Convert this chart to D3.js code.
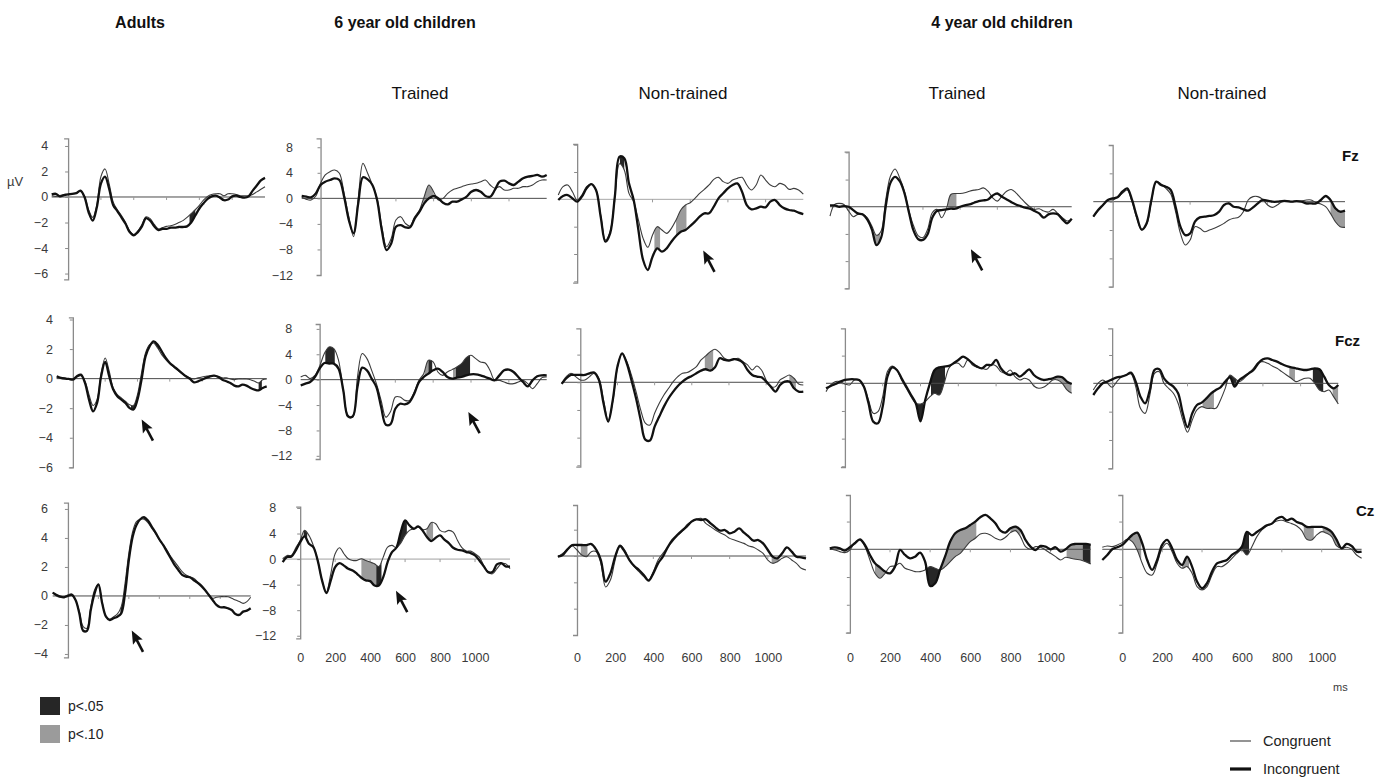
<!DOCTYPE html>
<html>
<head>
<meta charset="utf-8">
<script src="https://cdn.jsdelivr.net/npm/d3@7"></script>
<style>
  body { margin: 0; background: #fff; }
  text { font-family: "Liberation Sans", Arial, sans-serif; }
</style>
</head>
<body>
<svg></svg>
<script>
// ERP grand averages, sampled every 25 ms from -100 to 1200 ms (values in microvolts)
const time = [-100,-75,-50,-25,0,25,50,75,100,125,150,175,200,225,250,275,300,325,350,375,400,425,450,475,500,525,550,575,600,625,650,675,700,725,750,775,800,825,850,875,900,925,950,975,1000,1025,1050,1075,1100,1125,1150,1175,1200]

// ---- Fz ----
const adultsFzCon = [0.1,0.05,0.1,0.2,0.2,0.25,0.3,0.45,0.05,-1.0,-1.6,-0.65,1.6,2.2,1.05,-0.4,-1.0,-1.45,-2.0,-2.65,-2.95,-2.65,-2.15,-1.55,-1.7,-2.15,-2.5,-2.4,-2.3,-2.25,-2.15,-2.0,-1.85,-1.6,-1.3,-1.0,-0.65,-0.25,0.05,0.2,0.25,0.25,0.1,0.25,0.25,0.2,0.1,0.1,0.1,0.2,0.4,0.6,0.8]
const adultsFzInc = [0.2,0.25,0.05,0.15,0.2,0.25,0.3,0.5,0,-1.2,-1.85,-0.8,1.05,1.6,0.65,-0.65,-1.1,-1.6,-2.1,-2.75,-3.0,-2.75,-2.3,-1.65,-1.85,-2.3,-2.6,-2.5,-2.5,-2.4,-2.4,-2.35,-2.35,-2.3,-2.0,-1.45,-0.9,-0.5,-0.15,0.05,0.1,-0.05,-0.25,-0.2,0.05,0.1,0,-0.05,0.05,0.5,0.9,1.3,1.5]
const sixTrFzCon = [0.16,-0.16,-0.26,0.37,2.35,3.66,4.18,4.44,3.92,0.78,-2.87,-6.0,0,5.48,3.92,2.09,0,-4.44,-7.57,-6.27,-3.39,-2.87,-3.92,-4.33,-2.87,-1.83,0.26,2.09,1.04,-0.26,0,0.78,1.31,1.57,1.83,2.09,2.25,2.35,2.61,2.87,2.09,1.57,1.83,1.31,1.31,1.57,1.57,1.83,1.83,2.09,2.61,2.87,2.87]
const sixTrFzInc = [0.37,0.26,0.16,0.78,2.09,2.61,2.87,3.13,2.87,0.26,-3.39,-5.48,-0.78,3.29,2.98,2.09,-0.26,-4.96,-8.09,-7.05,-4.44,-4.18,-4.54,-4.54,-3.13,-2.09,-0.78,0,0.37,0,-0.68,-0.94,-0.52,-0.52,-0.16,0.26,1.04,1.31,1.04,0.37,0.26,1.31,2.61,2.77,2.35,2.09,2.61,3.13,3.39,3.5,3.66,3.39,3.66]
const sixNtFzCon = [0.63,1.85,2.1,1.12,-0.1,0.63,1.85,2.24,1.37,-2.29,-5.95,-4.73,0.39,5.2,4.3,0.88,-0.34,-3.02,-5.71,-7.02,-5.22,-4.0,-4.49,-4.98,-4.24,-3.02,-1.56,-0.83,-0.49,0.15,0.88,1.46,2.1,2.93,3.22,2.59,2.34,2.83,3.07,3.22,2.1,1.37,2.1,3.56,2.83,2.1,1.85,2.34,2.1,1.46,1.61,1.37,0.78]
const sixNtFzInc = [-0.1,0.49,0.63,0.15,-0.34,0.39,1.61,2.24,1.37,-2.54,-6.2,-4.98,0.39,6.24,6.0,2.34,-0.1,-4.49,-8.88,-10.34,-8.39,-7.17,-7.66,-7.17,-6.2,-5.37,-4.73,-4.49,-3.9,-3.27,-2.54,-2.05,-2.05,-1.07,0.15,0.88,1.61,2.1,2.34,1.12,-0.83,-1.46,-1.32,-1.07,-1.17,-0.34,-0.1,-0.83,-1.32,-1.56,-1.66,-1.95,-2.15]
const fourTrFzCon = [-1.37,0.34,0.49,0.34,-0.63,-1.46,-1.12,-1.12,-1.61,-2.83,-4.2,-3.56,1.07,4.49,5.56,4.24,2.29,-0.63,-2.83,-4.29,-4.54,-3.32,-0.88,-0.39,-1.61,-0.39,1.8,1.95,1.95,2.05,2.29,2.44,2.54,2.78,2.29,1.32,0.83,1.56,2.29,2.54,2.05,1.32,0.59,0,-0.39,-0.29,-0.63,-0.78,-0.39,-0.98,-1.61,-2.1,-1.85]
const fourTrFzInc = [0.2,0.2,0,0.1,0,-0.49,-0.98,-1.12,-1.85,-3.32,-5.66,-4.54,0.1,3.51,4.39,3.76,2.05,-0.88,-3.56,-4.78,-4.88,-4.05,-1.61,-0.63,-0.49,-0.39,-0.29,-0.29,0,0.2,0.34,0.59,0.83,0.93,1.07,1.66,1.95,1.46,1.07,0.68,0.34,0.1,-0.15,-0.29,-0.63,-0.98,-1.61,-1.12,-0.98,-1.12,-1.85,-2.44,-1.76]
const fourNtFzCon = [-2.12,-1.27,-0.47,0.24,0.24,0.61,1.18,1.65,0,-2.35,-4.0,-3.29,0,2.82,2.5,1.88,1.08,-1.41,-4.47,-6.12,-5.41,-3.53,-3.76,-4.24,-4.0,-3.76,-3.44,-3.06,-2.59,-2.35,-2.21,-1.41,0.24,0.71,0.71,0.33,-0.47,-0.8,-0.47,0,0.09,0,0.09,0.09,0.24,0.24,-0.14,-0.33,-0.71,-1.65,-2.82,-3.53,-3.62]
const fourNtFzInc = [-2.12,-1.18,-0.47,0.24,0.47,0.61,1.41,1.88,0.24,-2.12,-3.95,-3.06,0.24,2.82,2.35,2.12,1.65,-0.71,-3.53,-4.71,-4.47,-2.82,-2.21,-2.12,-2.02,-1.88,-1.41,-0.47,-0.24,-0.71,-0.8,-1.08,-1.27,-0.8,-0.24,0.24,0.14,0,0,0.09,0.09,0,0.09,0,-0.24,-0.24,-0.24,0.24,0.8,0.24,-0.94,-1.41,-1.27]

// ---- Fcz ----
const adultsFczCon = [0.05,0.05,0.05,-0.02,-0.02,0.11,0.2,-0.18,-1.08,-1.82,-1.42,0.38,1.4,0.5,-0.63,-1.08,-1.31,-1.53,-1.76,-1.82,-1.08,0.38,1.74,2.3,2.41,2.07,1.62,1.29,1.01,0.79,0.56,0.34,0.16,0.05,-0.02,0.05,0.11,0.16,0.2,0.2,0.16,0.05,0.05,-0.02,-0.07,-0.02,-0.02,-0.02,-0.07,-0.18,-0.29,-0.07,-0.02]
const adultsFczInc = [0.16,0.05,0,-0.02,-0.07,0.16,0.27,-0.29,-1.42,-2.21,-1.64,0.16,1.13,0.16,-0.74,-1.19,-1.42,-1.64,-1.98,-2.09,-1.42,-0.07,1.51,2.18,2.52,2.3,1.85,1.4,1.06,0.83,0.61,0.38,0.16,-0.02,-0.25,-0.18,-0.07,0.05,0.16,0.2,0.11,-0.07,-0.18,-0.29,-0.47,-0.52,-0.41,-0.47,-0.63,-0.74,-0.79,-0.63,-0.52]
const sixTrFczCon = [0.42,0.68,0.16,0.68,2.11,4.11,5.16,4.89,3.05,-1.68,-5.63,-5.9,0.42,4.11,3.32,1.47,-0.63,-3.26,-5.9,-5.0,-2.74,-2.74,-3.26,-3.26,-1.95,-0.11,0.95,3.05,2.79,1.21,0.68,1.21,1.58,2.0,2.53,3.47,3.84,3.32,2.79,2.63,1.47,-0.11,-0.11,-0.37,-0.63,-0.63,-0.37,-0.11,-0.63,-1.42,-0.63,0.32,0.42]
const sixTrFczInc = [-0.89,-0.63,-0.37,0.42,1.74,2.63,2.53,2.53,1.74,-1.68,-5.8,-5.8,-1.16,1.89,1.47,0.16,-1.16,-4.32,-7.1,-7.0,-4.58,-3.79,-3.89,-3.53,-2.21,-0.37,0.42,0.95,1.47,1.74,1.21,0.42,0.16,0.32,0.42,0.68,0.84,0.84,0.68,0.42,0.16,-0.11,0.68,1.47,1.58,1.21,0.42,-0.37,-1.05,-0.11,0.53,0.68,0.68]
const sixNtFczCon = [-0.14,0.82,1.3,0.82,0.34,0.34,0.82,1.3,0.58,-2.55,-5.45,-2.77,2.17,4.19,2.99,1.06,-1.35,-3.98,-5.9,-6.17,-4.48,-3.04,-1.83,-0.87,0.1,0.82,1.3,1.4,1.78,2.27,3.23,3.81,4.43,4.77,4.29,3.47,3.23,3.33,3.47,2.99,2.51,1.78,2.36,1.78,0.34,-0.63,-0.63,0.34,0.72,1.06,0.58,-0.24,-0.39]
const sixNtFczInc = [-0.24,0.58,1.06,1.06,1.06,1.06,1.3,1.4,0.34,-3.04,-5.69,-2.55,2.27,4.19,2.75,0.34,-2.31,-5.45,-8.3,-8.4,-6.41,-4.96,-3.52,-2.31,-1.35,-0.53,0.1,0.58,0.92,1.3,1.69,1.88,1.69,2.17,3.47,3.23,3.13,3.33,3.23,2.84,1.78,1.06,0.82,0.72,0.1,-0.63,-1.35,-0.39,0.1,0.1,-0.87,-1.35,-1.35]
const fourTrFczCon = [-1.2,-0.24,0.24,0.24,-0.1,-0.24,0.48,0.48,-0.48,-2.41,-4.34,-4.1,-1.93,1.69,2.51,1.93,0.48,-0.72,-1.93,-2.89,-3.0,-2.65,-1.93,-1.45,-1.69,0,2.17,2.89,2.89,2.31,3.37,2.65,2.31,2.17,2.02,2.65,2.51,1.69,1.45,1.93,0.96,0.48,0.72,0.48,-0.39,-0.72,-0.58,-0.1,0.48,0.48,0,-0.96,-1.45]
const fourTrFczInc = [-0.72,-0.39,-0.1,0.24,0.48,0.58,0.58,0.48,-0.48,-2.89,-5.54,-5.78,-3.37,0.96,2.31,1.93,0.72,-0.48,-1.69,-2.89,-5.5,-2.41,0,1.93,2.31,2.41,2.51,2.89,3.37,3.86,3.47,2.89,2.41,2.17,2.65,2.65,3.37,2.17,1.45,1.2,1.45,0.96,1.45,2.02,1.2,0.72,0.48,0.58,0.72,0.96,0.87,0.24,-0.1]
const fourNtFczCon = [-0.94,0,0.47,0,-0.56,0.24,0.94,1.18,1.32,-0.47,-3.53,-4.24,-1.65,1.41,1.65,0,-0.71,-1.41,-2.82,-5.18,-6.9,-5.18,-3.76,-3.29,-3.53,-3.53,-3.53,-2.35,-0.71,1.18,0.71,0.24,0.71,1.41,2.12,2.92,3.06,2.82,2.45,2.12,1.65,1.18,0.71,0.24,0.47,0.71,0.71,0,-0.94,-1.18,-0.94,-1.88,-2.92]
const fourNtFczInc = [-1.65,-0.71,0,0.24,0.56,0.85,0.94,1.18,1.51,0.24,-1.88,-2.82,-0.94,1.9,2.0,0.71,0,-0.47,-1.41,-4.24,-6.2,-4.24,-3.06,-2.73,-2.12,-1.41,-0.94,-0.56,0.24,0.85,-0.47,0.47,0.94,1.41,1.88,2.82,3.39,3.53,3.29,3.06,2.73,2.45,2.26,2.12,1.98,1.88,1.98,2.12,1.98,0.94,-0.24,-0.71,-0.24]

// ---- Cz ----
const adultsCzCon = [0.23,0,-0.09,-0.05,0.07,0.14,-0.28,-1.08,-2.11,-2.23,-0.74,0.41,0.8,-0.46,-1.43,-1.61,-1.43,-1.24,-0.74,0.87,2.94,4.44,5.13,5.29,5.29,5.06,4.67,4.32,3.86,3.52,3.17,2.71,2.37,2.02,1.68,1.45,1.33,1.22,0.99,0.76,0.41,0.07,-0.16,-0.09,-0.05,-0.05,-0.05,-0.16,-0.28,-0.39,-0.51,-0.39,-0.09]
const adultsCzInc = [0.23,0.07,-0.05,-0.09,0,0.07,-0.28,-1.2,-2.4,-2.4,-0.97,0.18,0.8,-0.51,-1.43,-1.66,-1.54,-1.43,-1.2,0.18,2.48,4.09,4.9,5.29,5.43,5.2,4.78,4.37,3.91,3.52,3.06,2.6,2.14,1.79,1.45,1.33,1.29,1.1,0.92,0.69,0.41,0.07,-0.28,-0.62,-0.78,-0.78,-0.85,-0.97,-1.24,-1.31,-1.08,-1.01,-0.85]
const sixTrCzCon = [0.05,0.57,0.57,1.78,2.92,4.49,3.71,2.14,-0.21,-3.34,-5.17,-2.3,0.84,1.78,0.84,0.05,-0.21,-0.21,0.05,-0.21,-0.47,-0.73,-1.15,0.31,1.88,2.14,1.78,2.51,3.71,4.49,4.75,5.01,4.6,4.75,5.74,5.53,4.49,4.23,4.49,4.23,2.92,1.78,1.25,1.25,0.84,0.31,-1.0,-2.04,-2.3,-1.51,-0.73,-0.73,-1.51]
const sixTrCzInc = [-0.47,0.31,0.42,1.36,2.66,3.55,2.4,1.88,-0.21,-3.34,-5.33,-3.34,-1.25,-0.63,-1.02,-1.51,-1.78,-2.3,-2.92,-3.34,-3.45,-4.13,-4.13,-2.82,-0.47,1.1,1.78,4.23,6.06,5.27,4.75,5.12,4.49,3.45,2.82,3.34,3.71,3.03,2.51,1.78,1.46,1.36,1.1,0.94,0.57,-0.21,-1.15,-2.04,-2.04,-0.84,-0.63,-1.15,-1.15]
const sixNtCzCon = [-0.1,0.41,1.01,1.52,0.91,0.15,-0.1,0.66,0.66,-1.11,-4.7,-3.65,-0.61,1.67,0.91,-0.61,-1.62,-2.38,-3.14,-3.65,-2.38,-0.61,0.41,1.32,2.18,3.04,3.7,4.71,5.22,5.57,5.72,4.96,4.46,3.95,3.54,3.19,2.68,2.43,2.18,1.92,1.52,1.32,0.91,0.41,-0.61,-1.11,-0.86,-0.35,-0.1,-0.61,-1.11,-1.87,-2.13]
const sixNtCzInc = [-0.1,0.15,1.01,1.67,1.67,1.67,1.67,1.82,1.01,-0.61,-3.9,-2.63,-0.1,1.52,0.66,-0.61,-1.52,-2.13,-2.89,-3.75,-2.63,-1.11,-0.1,1.32,2.43,3.19,3.85,4.46,5.22,5.57,5.47,5.57,4.96,4.35,3.85,3.95,3.44,3.7,4.2,3.54,2.94,2.33,2.43,1.92,0.91,-0.1,-0.35,0.41,1.32,0.66,-0.1,-0.2,-0.35]
const fourTrCzCon = [0,-0.1,-0.34,-0.48,-0.1,0.96,1.35,0.38,-1.54,-3.46,-4.18,-3.46,-2.5,-2.4,-2.02,-2.74,-2.98,-3.22,-3.22,-2.98,-2.5,-2.74,-2.98,-2.5,-1.78,-1.06,-0.58,0.29,1.11,1.59,2.21,2.31,2.07,1.59,1.35,1.73,2.4,2.69,1.83,0.38,0,0.38,0.29,-0.1,-0.58,-1.06,-1.54,-1.15,-1.3,-1.44,-1.54,-1.78,-2.11]
const fourTrCzInc = [0.14,0.29,0.14,-0.19,0.29,0.87,1.44,0.63,-0.82,-2.02,-2.6,-3.22,-3.46,-2.5,-0.1,-0.82,-1.3,-1.06,-0.48,-1.8,-5.3,-4.9,-2.9,-1.0,1.11,2.31,2.79,3.03,3.51,3.99,4.62,4.95,4.47,3.75,2.69,2.4,3.03,3.27,2.79,1.35,0.38,-0.1,0.48,0.38,0,0.29,-0.34,0,0.63,0.77,0.77,0.77,0.63]
const fourNtCzCon = [0.29,0.48,0.38,0.63,0.96,1.44,1.11,-0.1,-2.02,-3.46,-3.7,-2.02,0.14,0.87,-0.34,-2.02,-2.74,-2.5,-3.46,-5.38,-5.86,-5.38,-3.7,-2.5,-2.5,-2.02,-1.3,-0.58,-0.1,-0.82,0.38,1.83,2.79,3.37,3.7,4.09,4.18,3.94,3.7,3.37,2.69,1.44,1.35,2.07,2.55,2.31,1.83,0.48,0.14,0.29,0,-0.82,-1.3]
const fourNtCzInc = [-1.54,-0.82,0,0.29,0.63,1.35,2.07,2.4,0.87,-1.54,-2.98,-1.54,0.63,1.35,0.14,-1.54,-2.26,-1.06,-2.5,-4.66,-5.62,-4.9,-3.22,-2.02,-1.78,-1.54,-0.82,-0.34,0.38,2.5,2.02,2.5,2.98,3.46,3.7,4.42,4.66,4.18,4.42,3.94,3.7,3.22,3.22,3.22,3.22,2.98,2.5,1.35,0.14,0.77,0.48,-0.34,-0.34]

// significant differences: [start ms, end ms, level] level 1 = p<.05, 2 = p<.10
const sigAdultsFz = [[740, 775, 1]]
const sigSixTrFz = [[545, 600, 2]]
const sigSixNtFz = [[227, 250, 1], [410, 440, 2], [525, 580, 2]]
const sigFourTrFz = [[135, 170, 2], [535, 580, 2]]
const sigFourNtFz = [[1125, 1200, 2]]
const sigAdultsFcz = [[360, 400, 1], [505, 535, 1], [1150, 1170, 1]]
const sigSixTrFcz = [[30, 80, 1], [555, 575, 2], [575, 595, 1], [705, 720, 2], [720, 795, 1]]
const sigSixNtFcz = [[670, 715, 2], [1125, 1160, 2]]
const sigFourTrFcz = [[380, 415, 1], [455, 530, 1], [1110, 1200, 2]]
const sigFourNtFcz = [[480, 540, 2], [605, 660, 1], [940, 970, 2], [1065, 1120, 1], [1170, 1200, 2]]
const sigAdultsCz = [[345, 395, 1], [495, 520, 1]]
const sigSixTrCz = [[20, 40, 1], [350, 435, 2], [435, 465, 1], [555, 610, 1], [722, 760, 2]]
const sigSixNtCz = [[20, 55, 2], [1020, 1060, 2]]
const sigFourTrCz = [[125, 170, 2], [375, 445, 1], [445, 630, 2], [800, 850, 2], [1080, 1160, 2], [1160, 1200, 1]]
const sigFourNtCz = [[35, 95, 2], [300, 335, 2], [590, 635, 1], [910, 960, 2], [1005, 1095, 2]]

// arrows marking the effects: [ms, µV] of the tip
const arrowSixNtFz = [669, -7.5]
const arrowFourTrFz = [658, -6.25]
const arrowAdultsFcz = [426, -2.76]
const arrowSixTrFcz = [786, -5.09]
const arrowAdultsCz = [419, -2.39]
const arrowSixTrCz = [548, -4.97]

const groupTitles = ["Adults", "6 year old children", "4 year old children"]
const conditionTitles = ["Trained", "Non-trained", "Trained", "Non-trained"]
const electrodes = ["Fz", "Fcz", "Cz"]
const yTicksAdultsFront = [-6, -4, -2, 0, 2, 4]
const yTicksAdultsCz = [-4, -2, 0, 2, 4, 6]
const yTicksChildren = [-12, -8, -4, 0, 4, 8]
const xTickLabels = [0, 200, 400, 600, 800, 1000]

///////////////////////////////////////////
//////////////// Constants ////////////////
///////////////////////////////////////////
const width = 1377
const height = 779
const thinColour = "#3c3c3c"
const thickColour = "#111"
const axisColour = "#8a8a8a"
const labelColour = "#3a3a3a"
const sigColours = { 1: "#262626", 2: "#9b9b9b" }

// panel frames: x = pixel range for -100..1200 ms, y = pixel range for the y domain
const panels = [
  { con: adultsFzCon, inc: adultsFzInc, sig: sigAdultsFz, x: [51.7, 265], y: [279.3, 138.3], dom: [-6.45, 4.6], ticks: yTicksAdultsFront, pad: 17 },
  { con: sixTrFzCon, inc: sixTrFzInc, sig: sigSixTrFz, x: [301.7, 546.7], y: [275, 138.3], dom: [-12, 9.4], ticks: yTicksChildren, pad: 24.5 },
  { con: sixNtFzCon, inc: sixNtFzInc, sig: sigSixNtFz, x: [558.3, 803.3], y: [282.7, 144], dom: [-12.2, 8.1], ticks: yTicksChildren, arrow: arrowSixNtFz, zeroColour: "#a8a8a8" },
  { con: fourTrFzCon, inc: fourTrFzInc, sig: sigFourTrFz, x: [830, 1071.7], y: [288.3, 151.7], dom: [-12, 8.1], ticks: yTicksChildren, arrow: arrowFourTrFz },
  { con: fourNtFzCon, inc: fourNtFzInc, sig: sigFourNtFz, x: [1093.3, 1345], y: [286.7, 145], dom: [-12, 8], ticks: yTicksChildren },

  { con: adultsFczCon, inc: adultsFczInc, sig: sigAdultsFcz, x: [56.7, 266.7], y: [467.3, 317.3], dom: [-6, 4.15], ticks: yTicksAdultsFront, pad: 17, arrow: arrowAdultsFcz },
  { con: sixTrFczCon, inc: sixTrFczInc, sig: sigSixTrFcz, x: [300.7, 546.7], y: [459, 324], dom: [-12.5, 8.77], ticks: yTicksChildren, pad: 24.5, arrow: arrowSixTrFcz },
  { con: sixNtFczCon, inc: sixNtFczInc, sig: sigSixNtFcz, x: [561.7, 803.3], y: [466.7, 328.3], dom: [-12.2, 7.8], ticks: yTicksChildren },
  { con: fourTrFczCon, inc: fourTrFczInc, sig: sigFourTrFcz, x: [826, 1071.7], y: [467, 328.3], dom: [-12.1, 7.95], ticks: yTicksChildren },
  { con: fourNtFczCon, inc: fourNtFczInc, sig: sigFourNtFcz, x: [1093.3, 1338.3], y: [468.3, 328.3], dom: [-12, 7.77], ticks: yTicksChildren },

  { con: adultsCzCon, inc: adultsCzInc, sig: sigAdultsCz, x: [52.7, 250.7], y: [657.3, 502.7], dom: [-4.23, 6.43], ticks: yTicksAdultsCz, pad: 17, arrow: arrowAdultsCz },
  { con: sixTrCzCon, inc: sixTrCzInc, sig: sigSixTrCz, x: [282.7, 510], y: [638.3, 506.7], dom: [-12.4, 8.2], ticks: yTicksChildren, pad: 21, arrow: arrowSixTrCz, xLabels: true, zeroColour: "#a0a0a0" },
  { con: sixNtCzCon, inc: sixNtCzInc, sig: sigSixNtCz, x: [557.9, 806], y: [635, 505], dom: [-12, 7.75], ticks: yTicksChildren, xLabels: true },
  { con: fourTrCzCon, inc: fourTrCzInc, sig: sigFourTrCz, x: [829.8, 1090.7], y: [632.7, 495], dom: [-12.03, 7.83], ticks: yTicksChildren, xLabels: true },
  { con: fourNtCzCon, inc: fourNtCzInc, sig: sigFourNtCz, x: [1102.3, 1361.6], y: [632.7, 495], dom: [-12.03, 7.83], ticks: yTicksChildren, xLabels: true }
]

const svg = d3.select("svg")
  .attr("width", width)
  .attr("height", height)
  .style("display", "block")
const defs = svg.append("defs")

const curve = d3.curveCatmullRom.alpha(0.5)

///////////////////////////////////////////
//////////////// Titles ///////////////////
///////////////////////////////////////////
const groupX = [140, 405, 1002]
svg.selectAll(".group-title")
  .data(groupTitles)
  .join("text")
  .attr("x", (d, i) => groupX[i])
  .attr("y", 28)
  .attr("text-anchor", "middle")
  .attr("font-size", 16)
  .attr("font-weight", "bold")
  .attr("fill", "#111")
  .text(d => d)

const condX = [420, 683, 957, 1222]
svg.selectAll(".cond-title")
  .data(conditionTitles)
  .join("text")
  .attr("x", (d, i) => condX[i])
  .attr("y", 99)
  .attr("text-anchor", "middle")
  .attr("font-size", 17)
  .attr("fill", "#111")
  .text(d => d)

const elecPos = [[1342, 161], [1335, 346], [1356, 516]]
svg.selectAll(".elec")
  .data(electrodes)
  .join("text")
  .attr("x", (d, i) => elecPos[i][0])
  .attr("y", (d, i) => elecPos[i][1])
  .attr("font-size", 15)
  .attr("font-weight", "bold")
  .attr("fill", "#111")
  .text(d => d)

svg.append("text")
  .attr("x", 7).attr("y", 186)
  .attr("font-size", 13)
  .attr("fill", labelColour)
  .text("µV")

///////////////////////////////////////////
//////////////// Panels ///////////////////
///////////////////////////////////////////
panels.forEach((p, pi) => {
  const xs = d3.scaleLinear().domain([-100, 1200]).range(p.x)
  const ys = d3.scaleLinear().domain(p.dom).range(p.y)
  const g = svg.append("g").attr("class", "panel")

  // shaded significance regions between the two waveforms
  const area = d3.area()
    .curve(curve)
    .x((d, i) => xs(time[i]))
    .y0((d, i) => ys(p.con[i]))
    .y1((d, i) => ys(p.inc[i]))
  p.sig.forEach((s, k) => {
    const id = `clip-${pi}-${k}`
    defs.append("clipPath").attr("id", id)
      .append("rect")
      .attr("x", xs(s[0])).attr("width", xs(s[1]) - xs(s[0]))
      .attr("y", 0).attr("height", height)
    g.append("path")
      .datum(time)
      .attr("d", area)
      .attr("fill", sigColours[s[2]])
      .attr("clip-path", `url(#${id})`)
  })

  // zero line with small time ticks
  g.append("line")
    .attr("x1", xs(-100)).attr("x2", xs(1200))
    .attr("y1", ys(0)).attr("y2", ys(0))
    .attr("stroke", p.zeroColour || "#4a4a4a").attr("stroke-width", 1)
  g.selectAll(".zt")
    .data([200, 400, 600, 800, 1000])
    .join("line")
    .attr("x1", d => xs(d)).attr("x2", d => xs(d))
    .attr("y1", ys(0)).attr("y2", ys(0) + 3)
    .attr("stroke", "#9a9a9a")

  // y axis at stimulus onset
  const labelled = p.pad !== undefined
  const yAxis = d3.axisLeft(ys)
    .tickValues(p.ticks.filter(v => v >= p.dom[0] && v <= p.dom[1]))
    .tickSizeInner(3)
    .tickSizeOuter(4)
    .tickPadding(labelled ? p.pad : 3)
    .tickFormat(labelled ? d3.format("d") : () => "")
  const ax = g.append("g")
    .attr("transform", `translate(${xs(0)},0)`)
    .call(yAxis)
  ax.select(".domain").attr("stroke", axisColour).attr("stroke-width", 1.3)
  ax.selectAll(".tick line").attr("stroke", axisColour)
  ax.selectAll(".tick text")
    .attr("font-size", 12.5)
    .attr("fill", labelColour)
    .attr("font-family", "Liberation Sans, Arial, sans-serif")

  // waveforms
  const line = series => d3.line()
    .curve(curve)
    .x((d, i) => xs(time[i]))
    .y((d, i) => ys(series[i]))
  g.append("path")
    .datum(time)
    .attr("d", line(p.con))
    .attr("fill", "none")
    .attr("stroke", thinColour)
    .attr("stroke-width", 1.1)
  g.append("path")
    .datum(time)
    .attr("d", line(p.inc))
    .attr("fill", "none")
    .attr("stroke", thickColour)
    .attr("stroke-width", 2.3)
    .attr("stroke-linejoin", "round")

  // arrow
  if (p.arrow) {
    const a = g.append("g")
      .attr("transform", `translate(${xs(p.arrow[0])},${ys(p.arrow[1])}) rotate(-28)`)
    a.append("path")
      .attr("d", "M0,0 L-5.5,13 L0,10.5 L5.5,13 Z")
      .attr("fill", "#111")
    a.append("line")
      .attr("x1", 0).attr("y1", 10).attr("x2", 0).attr("y2", 24)
      .attr("stroke", "#111").attr("stroke-width", 2.6)
  }

  // time labels in the bottom row
  if (p.xLabels) {
    const xAxis = d3.axisBottom(xs)
      .tickValues(xTickLabels)
      .tickFormat(d3.format("d"))
      .tickSize(0)
      .tickPadding(0)
    const xa = g.append("g")
      .attr("transform", "translate(0,653)")
      .call(xAxis)
    xa.select(".domain").remove()
    xa.selectAll(".tick text")
      .attr("font-size", 12.5)
      .attr("fill", labelColour)
      .attr("font-family", "Liberation Sans, Arial, sans-serif")
  }
})

svg.append("text")
  .attr("x", 1333).attr("y", 691)
  .attr("font-size", 11)
  .attr("fill", labelColour)
  .text("ms")

///////////////////////////////////////////
//////////////// Legends //////////////////
///////////////////////////////////////////
const sigLegend = [["p<.05", 1], ["p<.10", 2]]
const sl = svg.selectAll(".sig-legend")
  .data(sigLegend)
  .join("g")
  .attr("transform", (d, i) => `translate(40,${697 + i * 28})`)
sl.append("rect")
  .attr("width", 20).attr("height", 18)
  .attr("fill", d => sigColours[d[1]])
sl.append("text")
  .attr("x", 28).attr("y", 14)
  .attr("font-size", 14)
  .attr("fill", "#222")
  .text(d => d[0])

const lineLegend = [["Congruent", 1.1, thinColour], ["Incongruent", 3.2, thickColour]]
const ll = svg.selectAll(".line-legend")
  .data(lineLegend)
  .join("g")
  .attr("transform", (d, i) => `translate(1230,${741 + i * 28})`)
ll.append("line")
  .attr("x1", 0).attr("x2", 21)
  .attr("stroke", d => d[2])
  .attr("stroke-width", d => d[1])
ll.append("text")
  .attr("x", 33).attr("y", 5)
  .attr("font-size", 14.5)
  .attr("fill", "#222")
  .text(d => d[0])
</script>
</body>
</html>
